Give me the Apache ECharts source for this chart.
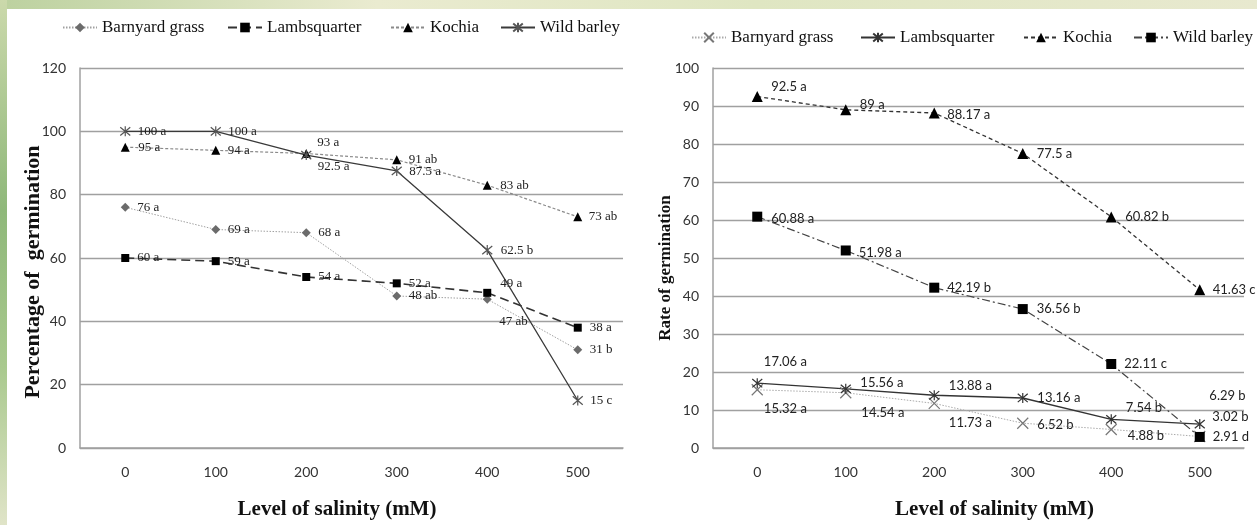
<!DOCTYPE html>
<html>
<head>
<meta charset="utf-8">
<script src="https://cdn.jsdelivr.net/npm/echarts@6/dist/echarts.min.js"></script>
<style>
html, body { margin: 0; padding: 0; background: #fff; }
#bgTop { position: absolute; left: 0; top: 0; width: 1257px; height: 9px;
  background: linear-gradient(90deg, #bcd19f, #eaebd0 30%, #dfe6c2 60%, #e8e9cf); }
#bgLeft { position: absolute; left: 0; top: 0; width: 7px; height: 525px;
  background: linear-gradient(180deg, #cbd9ab, #8fb87a 40%, #a9c98e 70%, #e0e4c8); }
#left { position: absolute; left: 0; top: 0; width: 630px; height: 525px; }
#right { position: absolute; left: 630px; top: 0; width: 627px; height: 525px; }
</style>
</head>
<body>
<div id="bgTop"></div>
<div id="bgLeft"></div>
<div id="left"></div>
<div id="right"></div>
<script>
// salinity levels (mM)
const salinity = ['0', '100', '200', '300', '400', '500'];

// percentage of germination
const pctTicks = [0, 20, 40, 60, 80, 100, 120];
const pctBarnyard = [76, 69, 68, 48, 47, 31];
const pctBarnyardSig = ['a', 'a', 'a', 'ab', 'ab', 'b'];
const pctLambs = [60, 59, 54, 52, 49, 38];
const pctLambsSig = ['a', 'a', 'a', 'a', 'a', 'a'];
const pctKochia = [95, 94, 93, 91, 83, 73];
const pctKochiaSig = ['a', 'a', 'a', 'ab', 'ab', 'ab'];
const pctBarley = [100, 100, 92.5, 87.5, 62.5, 15];
const pctBarleySig = ['a', 'a', 'a', 'a', 'b', 'c'];

// rate of germination
const rateTicks = [0, 10, 20, 30, 40, 50, 60, 70, 80, 90, 100];
const rateBarnyard = [15.32, 14.54, 11.73, 6.52, 4.88, 3.02];
const rateBarnyardSig = ['a', 'a', 'a', 'b', 'b', 'b'];
const rateLambs = [17.06, 15.56, 13.88, 13.16, 7.54, 6.29];
const rateLambsSig = ['a', 'a', 'a', 'a', 'b', 'b'];
const rateKochia = [92.5, 89, 88.17, 77.5, 60.82, 41.63];
const rateKochiaSig = ['a', 'a', 'a', 'a', 'b', 'c'];
const rateBarley = [60.88, 51.98, 42.19, 36.56, 22.11, 2.91];
const rateBarleySig = ['a', 'a', 'b', 'b', 'c', 'd'];

// where each value label sits, measured from the point (px)
const pctShift = {
  barnyard: [[12, 0], [12, 0], [12, 0], [12, 0], [12, 22], [12, 0]],
  lambs: [[12, 0], [12, 0], [12, 0], [12, 0], [13, -9], [12, 0]],
  kochia: [[13, 0], [12, 0], [11, -11], [12, 0], [13, 0], [11, 0]],
  barley: [[12, 0], [12, 0], [11, 11], [12, 1], [13, 0], [12, 0]]
};
const rateShift = {
  barnyard: [[6, 19], [15, 20], [14, 19], [14, 2], [16, 6], [12, -20]],
  lambs: [[6, -21], [14, -6], [14, -9], [14, 0], [14, -12], [9, -28]],
  kochia: [[14, -10], [14, -5], [13, 2], [14, 0], [14, 0], [13, 0]],
  barley: [[14, 2], [13, 2], [13, 0], [14, 0], [13, 0], [13, 0]]
};

const asterisk = 'path://M0,0L10,10M0,10L10,0M5,-1L5,11';
const cross = 'path://M0,0L10,10M0,10L10,0';

const serif = 'Liberation Serif';
const sans = 'Lato';

function makeSeries(name, values, sig, shift, look, labelFont) {
    return {
        name: name,
        type: 'line',
        symbol: look.symbol,
        symbolSize: look.size,
        showAllSymbol: true,
        data: values.map((v, i) => ({
            value: v,
            label: { offset: [shift[i][0] - look.size / 2, shift[i][1]] }
        })),
        lineStyle: { color: look.line, width: look.width, type: look.dash },
        itemStyle: {
            color: look.color,
            borderColor: look.color,
            borderWidth: look.border || 0
        },
        label: {
            show: true,
            position: 'right',
            distance: 0,
            fontFamily: labelFont,
            fontSize: 13,
            color: '#222',
            formatter: p => p.value + ' ' + sig[p.dataIndex]
        },
        emphasis: { disabled: true },
        z: look.z || 2
    };
}

function legendAt(name, left, top) {
    return {
        data: [name],
        left: left,
        top: top,
        padding: 0,
        itemWidth: 34,
        itemHeight: 12,
        selectedMode: false,
        textStyle: { fontFamily: serif, fontSize: 17, color: '#111' }
    };
}

function baseOption(ticks, gridBox, yName, xNamePad) {
    return {
        animation: false,
        grid: gridBox,
        xAxis: {
            type: 'category',
            data: salinity,
            boundaryGap: true,
            axisTick: { show: false },
            axisLine: { lineStyle: { color: '#a0a0a0', width: 1.5 } },
            axisLabel: { margin: 17, fontFamily: sans, fontSize: 14, color: '#333' },
            name: 'Level of salinity (mM)',
            nameLocation: 'middle',
            nameGap: 51,
            nameMoveOverlap: false,
            nameTextStyle: {
                fontFamily: serif, fontSize: 21, fontWeight: 'bold', color: '#111',
                padding: xNamePad
            }
        },
        yAxis: {
            type: 'value',
            min: ticks[0],
            max: ticks[ticks.length - 1],
            interval: ticks[1] - ticks[0],
            axisLine: { show: true, lineStyle: { color: '#a0a0a0', width: 1.5 } },
            axisTick: { show: false },
            splitLine: { lineStyle: { color: '#a0a0a0', width: 1.3 } },
            axisLabel: { margin: 14, fontFamily: sans, fontSize: 14, color: '#333' },
            name: yName.text,
            nameLocation: 'middle',
            nameGap: yName.gap,
            nameMoveOverlap: false,
            nameTextStyle: {
                fontFamily: serif, fontSize: yName.size, fontWeight: 'bold', color: '#111',
                padding: yName.pad
            }
        }
    };
}

const leftChart = echarts.init(document.getElementById('left'));
const leftOption = baseOption(pctTicks,
    { left: 80, right: 7, top: 68, bottom: 66 },
    { text: 'Percentage of  germination', size: 22, gap: 36, pad: [0, 28, 0, 0] },
    [0, 29, 0, 0]);
leftOption.legend = [
    legendAt('Barnyard grass', 62, 19),
    legendAt('Lambsquarter', 227, 19),
    legendAt('Kochia', 390, 19),
    legendAt('Wild barley', 500, 19)
];
leftOption.series = [
    makeSeries('Barnyard grass', pctBarnyard, pctBarnyardSig, pctShift.barnyard,
        { symbol: 'diamond', size: 9, color: '#6b6b6b', line: '#a0a0a0', width: 1, dash: [1.5, 1.5] }, serif),
    makeSeries('Lambsquarter', pctLambs, pctLambsSig, pctShift.lambs,
        { symbol: 'rect', size: 8, color: '#000', line: '#333', width: 1.6, dash: [9, 5] }, serif),
    makeSeries('Kochia', pctKochia, pctKochiaSig, pctShift.kochia,
        { symbol: 'triangle', size: 9, color: '#000', line: '#8a8a8a', width: 1.2, dash: [3, 2] }, serif),
    makeSeries('Wild barley', pctBarley, pctBarleySig, pctShift.barley,
        { symbol: asterisk, size: 10, color: '#555', line: '#3a3a3a', width: 1.3, dash: 'solid', border: 1.2 }, serif)
];
leftChart.setOption(leftOption);

const rightChart = echarts.init(document.getElementById('right'));
const rightOption = baseOption(rateTicks,
    { left: 83, right: 13, top: 68, bottom: 65 },
    { text: 'Rate of germination', size: 17, gap: 39, pad: [0, 20, 0, 0] },
    [0, 0, 0, 32]);
rightOption.legend = [
    legendAt('Barnyard grass', 61, 29),
    legendAt('Lambsquarter', 230, 29),
    legendAt('Kochia', 393, 29),
    legendAt('Wild barley', 503, 29)
];
rightOption.series = [
    makeSeries('Barnyard grass', rateBarnyard, rateBarnyardSig, rateShift.barnyard,
        { symbol: cross, size: 11, color: '#777', line: '#aaa', width: 1, dash: [1.5, 1.5], border: 1.2 }, sans),
    makeSeries('Lambsquarter', rateLambs, rateLambsSig, rateShift.lambs,
        { symbol: asterisk, size: 10, color: '#333', line: '#333', width: 1.4, dash: 'solid', border: 1.2 }, sans),
    makeSeries('Kochia', rateKochia, rateKochiaSig, rateShift.kochia,
        { symbol: 'triangle', size: 11, color: '#000', line: '#333', width: 1.3, dash: [4, 3] }, sans),
    makeSeries('Wild barley', rateBarley, rateBarleySig, rateShift.barley,
        { symbol: 'rect', size: 10, color: '#000', line: '#444', width: 1.2, dash: [8, 3, 2, 3] }, sans)
];
rightChart.setOption(rightOption);
</script>
</body>
</html>
